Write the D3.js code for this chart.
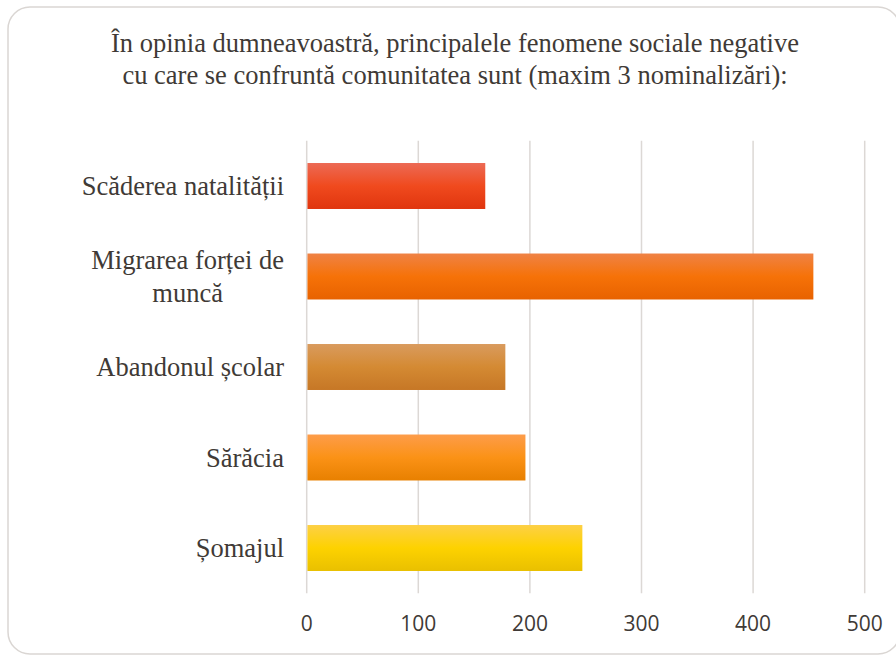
<!DOCTYPE html>
<html>
<head>
<meta charset="utf-8">
<script src="https://cdn.jsdelivr.net/npm/d3@7"></script>
<style>
  html, body { margin: 0; padding: 0; background: #ffffff; }
  svg { display: block; }
</style>
</head>
<body>
<svg id="chart" width="896" height="656"></svg>
<script>
const titleLines = [
  "În opinia dumneavoastră, principalele fenomene sociale negative",
  "cu care se confruntă comunitatea sunt (maxim 3 nominalizări):"
];
const categories = [
  ["Scăderea natalității"],
  ["Migrarea forței de", "muncă"],
  ["Abandonul școlar"],
  ["Sărăcia"],
  ["Șomajul"]
];
const values = [160, 454, 178, 196, 247];
const tickValues = [0, 100, 200, 300, 400, 500];
const barGradients = [
  ["#ec6a55", "#f04a1e", "#e0350e"],
  ["#ef8245", "#f67208", "#e86200"],
  ["#d99b5e", "#d48a33", "#c67726"],
  ["#fd9c4a", "#fb9216", "#e88000"],
  ["#fdd046", "#fdd200", "#e9c000"]
];

const svg = d3.select("#chart");
const textColor = "#403a36";
const gridColor = "#dcd8d5";

// frame
svg.append("rect")
  .attr("x", 8).attr("y", 7)
  .attr("width", 892).attr("height", 647)
  .attr("rx", 22).attr("ry", 22)
  .attr("fill", "#ffffff")
  .attr("stroke", "#dad6d3")
  .attr("stroke-width", 1.5);

const ids = categories.map((c, i) => "c" + i);
const x = d3.scaleLinear().domain([0, 500]).range([306.7, 864.7]);
const y = d3.scaleBand().domain(ids).range([140.75, 593.25])
  .paddingInner(0.492).paddingOuter(0.246);

// gradients
const defs = svg.append("defs");
barGradients.forEach((g, i) => {
  const lg = defs.append("linearGradient")
    .attr("id", "grad" + i)
    .attr("x1", 0).attr("y1", 0).attr("x2", 0).attr("y2", 1);
  lg.append("stop").attr("offset", "0%").attr("stop-color", g[0]);
  lg.append("stop").attr("offset", "50%").attr("stop-color", g[1]);
  lg.append("stop").attr("offset", "100%").attr("stop-color", g[2]);
});

// gridlines
svg.append("g").selectAll("line").data(tickValues).join("line")
  .attr("x1", d => x(d)).attr("x2", d => x(d))
  .attr("y1", 140.75).attr("y2", 593.25)
  .attr("stroke", gridColor).attr("stroke-width", 1.5);

// bars
svg.append("g").selectAll("rect").data(values).join("rect")
  .attr("x", x(0) + 0.75)
  .attr("y", (d, i) => y(ids[i]))
  .attr("width", d => x(d) - x(0) - 0.75)
  .attr("height", y.bandwidth())
  .attr("fill", (d, i) => "url(#grad" + i + ")");

// x tick labels
svg.append("g").selectAll("text").data(tickValues).join("text")
  .attr("x", d => x(d))
  .attr("y", 631)
  .attr("text-anchor", "middle")
  .attr("font-family", "'Open Sans', sans-serif")
  .attr("font-size", "21px")
  .attr("fill", textColor)
  .text(d => d);

// category labels
const labelRight = 284;
const lineH = 33;
const catG = svg.append("g")
  .attr("font-family", "'Liberation Serif', 'Times New Roman', serif")
  .attr("font-size", "26.5px")
  .attr("fill", textColor);
categories.forEach((lines, i) => {
  const cy = y(ids[i]) + y.bandwidth() / 2;
  const t = catG.append("text").attr("text-anchor", "middle");
  const spans = lines.map((ln, j) =>
    t.append("tspan").attr("y", cy + 9 + (j - (lines.length - 1) / 2) * lineH).text(ln));
  let maxW = 0;
  spans.forEach(s => { maxW = Math.max(maxW, s.node().getComputedTextLength()); });
  spans.forEach(s => s.attr("x", labelRight - maxW / 2));
});

// title
const titleG = svg.append("text")
  .attr("text-anchor", "middle")
  .attr("font-family", "'Liberation Serif', 'Times New Roman', serif")
  .attr("font-size", "26.5px")
  .attr("fill", textColor);
titleLines.forEach((ln, j) => {
  titleG.append("tspan").attr("x", 455).attr("y", 51.7 + j * 32.6).text(ln);
});
</script>
</body>
</html>
